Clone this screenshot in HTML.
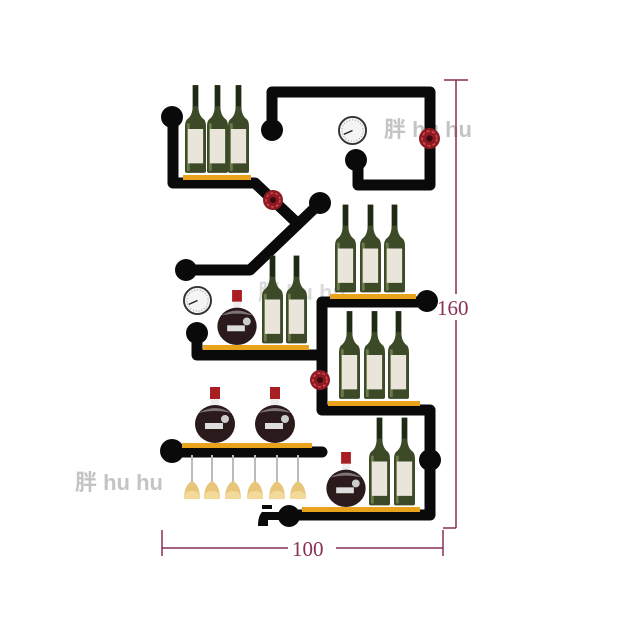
<!DOCTYPE html>
<html><head><meta charset="utf-8"><style>
html,body{margin:0;padding:0;background:#fff;}
svg{display:block;}
.wm{font-family:"Liberation Sans","Noto Sans CJK SC",sans-serif;font-weight:bold;fill:#c4c4c4;}
.dim{font-family:"Liberation Serif",serif;fill:#8a2f55;font-size:21px;}
</style></head><body>
<svg width="640" height="640" viewBox="0 0 640 640" xmlns="http://www.w3.org/2000/svg">
<defs>
<symbol id="bottle" viewBox="0 0 22 92">
<rect x="8" y="0" width="6" height="24" fill="#1f2a14"/>
<path d="M8 22 Q8 32 2 36 Q0 38 0 44 L0 90 Q0 92 2 92 L20 92 Q22 92 22 90 L22 44 Q22 38 20 36 Q14 32 14 22 Z" fill="#3c4a28"/>
<rect x="2" y="40" width="3" height="50" fill="#6a7a4a"/>
<rect x="3" y="46" width="16" height="36" fill="#e9e5da"/>
</symbol>
<symbol id="dec" viewBox="0 0 40 56">
<rect x="15" y="0" width="10" height="12" fill="#a81e22"/>
<rect x="16" y="12" width="8" height="6" fill="#eee"/>
<ellipse cx="20" cy="37" rx="20" ry="19" fill="#2a1a1c"/>
<path d="M4 26 Q20 16 36 26 Q20 22 4 26Z" fill="#fff" opacity=".4"/>
<rect x="10" y="36" width="18" height="6" fill="#ddd"/>
<circle cx="30" cy="32" r="4" fill="#ccc"/>
</symbol>
<symbol id="glass" viewBox="0 0 20 46">
<rect x="9" y="0" width="2" height="28" fill="#bbb"/>
<path d="M2 44 Q2 30 10 26 Q18 30 18 44 Z" fill="#e8c679"/>
<path d="M2 44 Q2 36 10 36 Q18 36 18 44Z" fill="#f3d99a"/>
</symbol>
<symbol id="valve" viewBox="0 0 20 20">
<circle cx="10" cy="10" r="10" fill="#8d1a22"/>
<circle cx="10" cy="10" r="7" fill="none" stroke="#d24a50" stroke-width="1.5" stroke-dasharray="3 2"/>
<circle cx="10" cy="10" r="3" fill="#3a0a0d"/>
</symbol>
<symbol id="gauge" viewBox="0 0 30 30">
<circle cx="15" cy="15" r="14" fill="#f4f4f4" stroke="#333" stroke-width="2"/>
<circle cx="15" cy="15" r="11" fill="none" stroke="#999" stroke-width="1" stroke-dasharray="1 2"/>
<line x1="15" y1="15" x2="6" y2="19" stroke="#222" stroke-width="1.5"/>
</symbol>
</defs>

<!-- watermarks -->
<text class="wm" x="384" y="137" font-size="22">胖 hu hu</text>
<text class="wm" x="75" y="490" font-size="22">胖 hu hu</text>
<text class="wm" x="258" y="300" font-size="22" opacity=".6">胖 hu hu</text>

<!-- dimensions -->
<g stroke="#8a2f55" stroke-width="1.5" fill="none">
<line x1="456" y1="80" x2="456" y2="528"/>
<line x1="444" y1="80" x2="468" y2="80"/>
<line x1="443" y1="528" x2="456" y2="528"/>
<line x1="162" y1="548" x2="443" y2="548"/>
<line x1="162" y1="530" x2="162" y2="556"/>
<line x1="443" y1="530" x2="443" y2="556"/>
</g>
<rect x="438" y="294" width="42" height="26" fill="#fff"/>
<text class="dim" x="437" y="315">160</text>
<rect x="288" y="536" width="48" height="24" fill="#fff"/>
<text class="dim" x="292" y="556">100</text>

<!-- pipes -->
<g stroke="#0a0a0a" stroke-width="11" fill="none" stroke-linejoin="round" stroke-linecap="round">
<path d="M173 115 V183 H255 L296 222"/>
<path d="M320 203 L250 270 H186"/>
<path d="M272 130 V92 H430 V185 H358 V160"/>
<path d="M427 302 H322 V410 H430 V515 H290"/>
<path d="M197 333 V355 H322"/>
<path d="M172 452 H322"/>
</g>
<g fill="#0a0a0a">
<circle cx="172" cy="117" r="11"/>
<circle cx="272" cy="130" r="11"/>
<circle cx="356" cy="160" r="11"/>
<circle cx="320" cy="203" r="11"/>
<circle cx="186" cy="270" r="11"/>
<circle cx="427" cy="301" r="11"/>
<circle cx="197" cy="333" r="11"/>
<circle cx="172" cy="451" r="12"/>
<circle cx="430" cy="460" r="11"/>
<circle cx="289" cy="516" r="11"/>
<!-- faucet -->
<rect x="262" y="505" width="10" height="4"/>
<path d="M262 512 H280 V520 H268 V526 H258 Q258 516 262 512Z"/>
</g>

<!-- valves & gauges -->
<use href="#valve" x="263" y="190" width="20" height="20"/>
<use href="#valve" x="419" y="128" width="21" height="21"/>
<use href="#valve" x="310" y="370" width="20" height="20"/>
<use href="#gauge" x="338" y="116" width="29" height="29"/>
<use href="#gauge" x="183" y="286" width="29" height="29"/>

<!-- shelves -->
<g fill="#e9a21c">
<rect x="183" y="175" width="68" height="5"/>
<rect x="330" y="294" width="86" height="5"/>
<rect x="203" y="345" width="106" height="5"/>
<rect x="328" y="401" width="92" height="5"/>
<rect x="182" y="443" width="130" height="5"/>
<rect x="302" y="507" width="118" height="5"/>
</g>

<!-- bottles -->
<use href="#bottle" x="185" y="83" width="21" height="92"/>
<use href="#bottle" x="207" y="83" width="21" height="92"/>
<use href="#bottle" x="228" y="83" width="21" height="92"/>
<use href="#bottle" x="335" y="203" width="21" height="91"/>
<use href="#bottle" x="360" y="203" width="21" height="91"/>
<use href="#bottle" x="384" y="203" width="21" height="91"/>
<use href="#bottle" x="262" y="254" width="21" height="91"/>
<use href="#bottle" x="286" y="254" width="21" height="91"/>
<use href="#bottle" x="339" y="309" width="21" height="92"/>
<use href="#bottle" x="364" y="309" width="21" height="92"/>
<use href="#bottle" x="388" y="309" width="21" height="92"/>
<use href="#bottle" x="369" y="416" width="21" height="91"/>
<use href="#bottle" x="394" y="416" width="21" height="91"/>

<!-- decanters -->
<use href="#dec" x="217" y="290" width="40" height="55"/>
<use href="#dec" x="195" y="387" width="40" height="56"/>
<use href="#dec" x="255" y="387" width="40" height="56"/>
<use href="#dec" x="325" y="452" width="42" height="55"/>

<!-- glasses -->
<use href="#glass" x="182" y="455" width="20" height="46"/>
<use href="#glass" x="202" y="455" width="20" height="46"/>
<use href="#glass" x="223" y="455" width="20" height="46"/>
<use href="#glass" x="245" y="455" width="20" height="46"/>
<use href="#glass" x="267" y="455" width="20" height="46"/>
<use href="#glass" x="288" y="455" width="20" height="46"/>
</svg>
</body></html>
